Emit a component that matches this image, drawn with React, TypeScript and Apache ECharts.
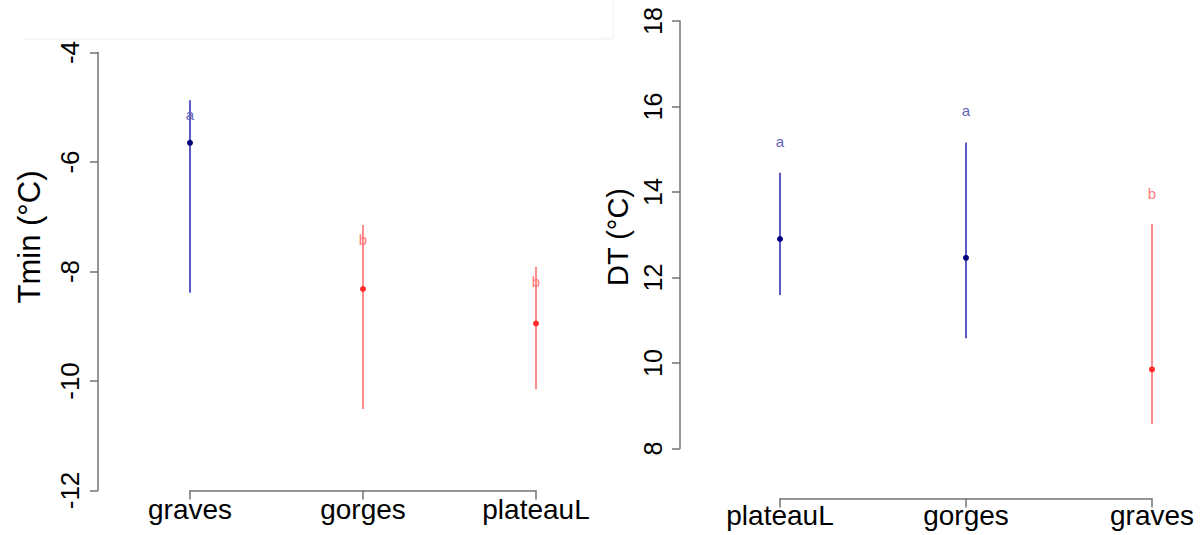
import React, { useEffect, useRef } from "react";
import * as echarts from "echarts";

// Left panel: Tmin (°C)
const tminCategories = ["graves", "gorges", "plateauL"];
const tminMean = [-5.65, -8.32, -8.95];
const tminLow = [-8.39, -10.51, -10.15];
const tminHigh = [-4.87, -7.15, -7.92];
const tminLetters = ["a", "b", "b"];
const tminLetterY = [-5.14, -7.42, -8.19];
const tminTicks = { min: -12, max: -4, interval: 2 };

// Right panel: DT (°C)
const dtCategories = ["plateauL", "gorges", "graves"];
const dtMean = [12.9, 12.46, 9.85];
const dtLow = [11.59, 10.58, 8.57];
const dtHigh = [14.45, 15.16, 13.25];
const dtLetters = ["a", "a", "b"];
const dtLetterY = [15.18, 15.9, 13.97];
const dtTicks = { min: 8, max: 18, interval: 2 };

const STYLE: Record<string, { line: string; point: string; text: string }> = {
  a: { line: "#5b5bc6", point: "#00007a", text: "#6262b6" },
  b: { line: "#ff8c8c", point: "#ff2a2a", text: "#ff7b7b" },
};

const AXIS_COLOR = "#737373";

function errorSeries(gridIdx: number, low: number[], high: number[], mean: number[], letters: string[]) {
  return {
    type: "custom",
    xAxisIndex: gridIdx,
    yAxisIndex: gridIdx,
    data: mean.map((m, i) => [i, low[i], high[i], m]),
    renderItem: (params: any, api: any) => {
      const x = api.value(0);
      const lo = api.coord([x, api.value(1)]);
      const hi = api.coord([x, api.value(2)]);
      const m = api.coord([x, api.value(3)]);
      const st = STYLE[letters[params.dataIndex]];
      return {
        type: "group",
        children: [
          {
            type: "line",
            shape: { x1: lo[0], y1: lo[1], x2: hi[0], y2: hi[1] },
            style: { stroke: st.line, lineWidth: 2 },
          },
          {
            type: "circle",
            shape: { cx: m[0], cy: m[1], r: 3 },
            style: { fill: st.point },
          },
        ],
      };
    },
  };
}

function letterSeries(gridIdx: number, ys: number[], letters: string[]) {
  return {
    type: "custom",
    xAxisIndex: gridIdx,
    yAxisIndex: gridIdx,
    data: ys.map((y, i) => [i, y]),
    renderItem: (params: any, api: any) => {
      const p = api.coord([api.value(0), api.value(1)]);
      const st = STYLE[letters[params.dataIndex]];
      return {
        type: "text",
        x: p[0],
        y: p[1],
        style: {
          text: letters[params.dataIndex],
          fill: st.text,
          font: "15px 'Liberation Sans', Arial, sans-serif",
          align: "center",
          verticalAlign: "middle",
        },
      };
    },
  };
}

function xAxisFor(gridIdx: number, cats: string[], offset: number, margin: number) {
  return {
    type: "category",
    gridIndex: gridIdx,
    data: cats,
    boundaryGap: false,
    position: "bottom",
    offset,
    axisLine: { show: true, lineStyle: { color: AXIS_COLOR, width: 1.5 } },
    axisTick: { show: true, length: 9, inside: false, alignWithLabel: true, lineStyle: { color: AXIS_COLOR, width: 1.5 } },
    axisLabel: {
      show: true,
      interval: 0,
      color: "#000",
      fontSize: 28,
      fontFamily: "'Liberation Sans', Arial, sans-serif",
      margin,
    },
    splitLine: { show: false },
  };
}

function yAxisFor(gridIdx: number, t: { min: number; max: number; interval: number }, offset: number, fontSize: number) {
  return {
    type: "value",
    gridIndex: gridIdx,
    min: t.min,
    max: t.max,
    interval: t.interval,
    position: "left",
    offset,
    axisLine: { show: true, lineStyle: { color: AXIS_COLOR, width: 1.5 } },
    axisTick: { show: true, length: 8, inside: false, lineStyle: { color: AXIS_COLOR, width: 1.5 } },
    axisLabel: {
      show: true,
      rotate: 90,
      color: "#000",
      fontSize,
      fontFamily: "'Liberation Sans', Arial, sans-serif",
      margin: 15,
    },
    splitLine: { show: false },
  };
}

export default function App() {
  const ref = useRef<HTMLDivElement>(null);
  useEffect(() => {
    if (!ref.current) return;
    const chart = echarts.init(ref.current, null, { renderer: "svg" });
    chart.setOption({
      animation: false,
      backgroundColor: "#ffffff",
      grid: [
        { left: 190, top: 52.5, width: 346, height: 438, containLabel: false, outerBoundsMode: "none" },
        { left: 780, top: 21, width: 372, height: 427.5, containLabel: false, outerBoundsMode: "none" },
      ],
      xAxis: [xAxisFor(0, tminCategories, 0, 5), xAxisFor(1, dtCategories, 50, 3)],
      yAxis: [yAxisFor(0, tminTicks, 92, 26), yAxisFor(1, dtTicks, 100, 25)],
      series: [
        errorSeries(0, tminLow, tminHigh, tminMean, tminLetters),
        letterSeries(0, tminLetterY, tminLetters),
        errorSeries(1, dtLow, dtHigh, dtMean, dtLetters),
        letterSeries(1, dtLetterY, dtLetters),
      ],
      graphic: [
        {
          type: "line",
          shape: { x1: 24, y1: 39, x2: 612, y2: 39 },
          style: { stroke: "#f0f0f0", lineWidth: 1 },
          silent: true,
        },
        {
          type: "polyline",
          shape: { points: [[600, 38], [613, 38], [613, 0]] },
          style: { stroke: "#f2f2f2", lineWidth: 1, fill: null },
          silent: true,
        },
        {
          type: "text",
          x: 29,
          y: 237,
          rotation: Math.PI / 2,
          style: {
            text: "Tmin (°C)",
            fill: "#000",
            font: "31px 'Liberation Sans', Arial, sans-serif",
            align: "center",
            verticalAlign: "middle",
          },
        },
        {
          type: "text",
          x: 618,
          y: 237,
          rotation: Math.PI / 2,
          style: {
            text: "DT (°C)",
            fill: "#000",
            font: "29px 'Liberation Sans', Arial, sans-serif",
            align: "center",
            verticalAlign: "middle",
          },
        },
      ],
    });
    return () => chart.dispose();
  }, []);
  return (
    <div
      ref={ref}
      style={{ position: "fixed", left: 0, top: 0, width: 1200, height: 535, background: "#fff" }}
    />
  );
}
